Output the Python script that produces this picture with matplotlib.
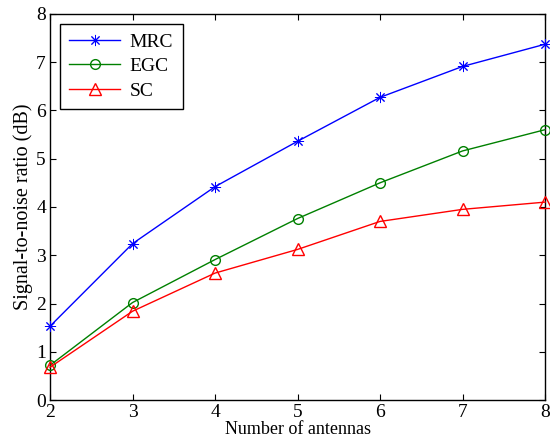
import numpy as np
import matplotlib.pyplot as plt

plt.rcParams['font.family'] = ['Liberation Serif', 'DejaVu Serif']

antennas = [2, 3, 4, 5, 6, 7, 8]
mrc = [1.53, 3.24, 4.42, 5.36, 6.27, 6.91, 7.37]
egc = [0.72, 2.02, 2.91, 3.76, 4.50, 5.16, 5.60]
sc = [0.68, 1.84, 2.63, 3.12, 3.70, 3.95, 4.10]

fig = plt.figure(figsize=(5.5, 4.46), dpi=100)
ax = fig.add_axes([0.091, 0.103, 0.9, 0.866])

ax.plot(antennas, mrc, color='blue', marker=(8, 2, 0), ms=8, mew=0.7, lw=1,
        label='MRC', clip_on=False, zorder=3)
ax.plot(antennas, egc, color='green', marker='o', ms=7, lw=1, mfc='none',
        label='EGC', clip_on=False, zorder=3)
ax.plot(antennas, sc, color='red', marker='^', ms=8, lw=1, mfc='none',
        label='SC', clip_on=False, zorder=3)

ax.set_xlim(2, 8)
ax.set_ylim(0, 8)
ax.set_xticks(range(2, 9))
ax.set_yticks(range(0, 9))
ax.tick_params(direction='in', top=True, right=True, labelsize=14, length=4, pad=3)
for s in ax.spines.values():
    s.set_linewidth(1)

ax.set_xlabel('Number of antennas', fontsize=13, labelpad=0)
ax.set_ylabel('Signal-to-noise ratio (dB)', fontsize=14.5, labelpad=2)

leg = ax.legend(loc='upper left', fontsize=14, fancybox=False, edgecolor='black',
                framealpha=1, borderaxespad=0.5, handlelength=2.6, labelspacing=0.35,
                handletextpad=0.5, borderpad=0.5)
leg.get_frame().set_linewidth(1)

fig.savefig('out.png', dpi=100)
